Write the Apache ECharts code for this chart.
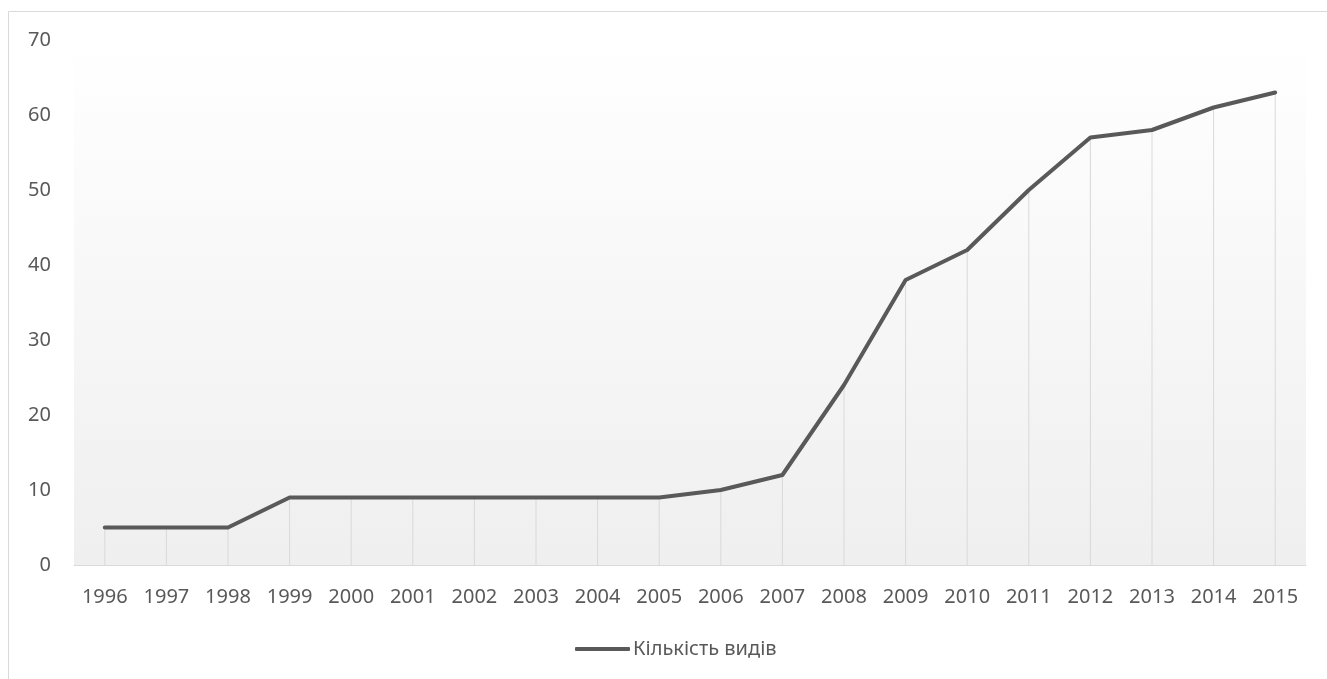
<!DOCTYPE html>
<html>
<head>
<meta charset="utf-8">
<script src="https://cdn.jsdelivr.net/npm/echarts@6/dist/echarts.min.js"></script>
<style>
  html, body { margin: 0; padding: 0; background: #fff; }
  #chart { width: 1327px; height: 679px; }
</style>
</head>
<body>
<div id="chart"></div>
<script>
// Years on the horizontal axis
const years = ['1996','1997','1998','1999','2000','2001','2002','2003','2004','2005',
               '2006','2007','2008','2009','2010','2011','2012','2013','2014','2015'];
// Number of species per year
const speciesCount = [5, 5, 5, 9, 9, 9, 9, 9, 9, 9, 10, 12, 24, 38, 42, 50, 57, 58, 61, 63];
const seriesName = 'Кількість видів';
const yTicks = { min: 0, max: 70, interval: 10 };

const textColor = '#595959';
const fontFamily = '"Noto Sans", "Open Sans", sans-serif';

const chart = echarts.init(document.getElementById('chart'), null, { renderer: 'canvas' });
chart.setOption({
  animation: false,
  textStyle: { fontFamily: fontFamily },
  graphic: [{
    type: 'rect',
    shape: { x: 8.5, y: 11.5, width: 1340, height: 700 },
    style: { fill: 'none', stroke: '#d9d9d9', lineWidth: 1 },
    silent: true,
    z: -10
  }],
  grid: {
    left: 74, right: 21, top: 40, bottom: 114,
    show: true,
    borderWidth: 0,
    backgroundColor: {
      type: 'linear', x: 0, y: 0, x2: 0, y2: 1,
      colorStops: [
        { offset: 0, color: '#ffffff' },
        { offset: 1, color: '#efefef' }
      ]
    }
  },
  legend: {
    data: [{ name: seriesName, icon: 'roundRect' }],
    top: 634,
    left: 570,
    itemWidth: 55,
    itemHeight: 4,
    itemGap: 10,
    itemStyle: { color: '#595959' },
    textStyle: { color: textColor, fontSize: 20, fontFamily: fontFamily, padding: [0, 0, 0, -2] }
  },
  xAxis: {
    type: 'category',
    data: years,
    boundaryGap: true,
    axisLine: { show: true, lineStyle: { color: '#d9d9d9', width: 1 } },
    axisTick: { show: false },
    axisLabel: { color: textColor, fontSize: 20, margin: 22, interval: 0 }
  },
  yAxis: {
    type: 'value',
    min: yTicks.min, max: yTicks.max, interval: yTicks.interval,
    axisLine: { show: false },
    axisTick: { show: false },
    splitLine: { show: false },
    axisLabel: { color: textColor, fontSize: 20, margin: 23 }
  },
  series: [
    {
      // thin drop lines from each point down to the axis
      name: 'drop',
      type: 'bar',
      data: speciesCount,
      barWidth: 1,
      itemStyle: { color: '#d9d9d9' },
      silent: true,
      z: 1
    },
    {
      name: seriesName,
      type: 'line',
      data: speciesCount,
      symbol: 'none',
      lineStyle: { color: '#595959', width: 4, cap: 'round', join: 'round' },
      itemStyle: { color: '#595959' },
      z: 3
    }
  ]
});
</script>
</body>
</html>
